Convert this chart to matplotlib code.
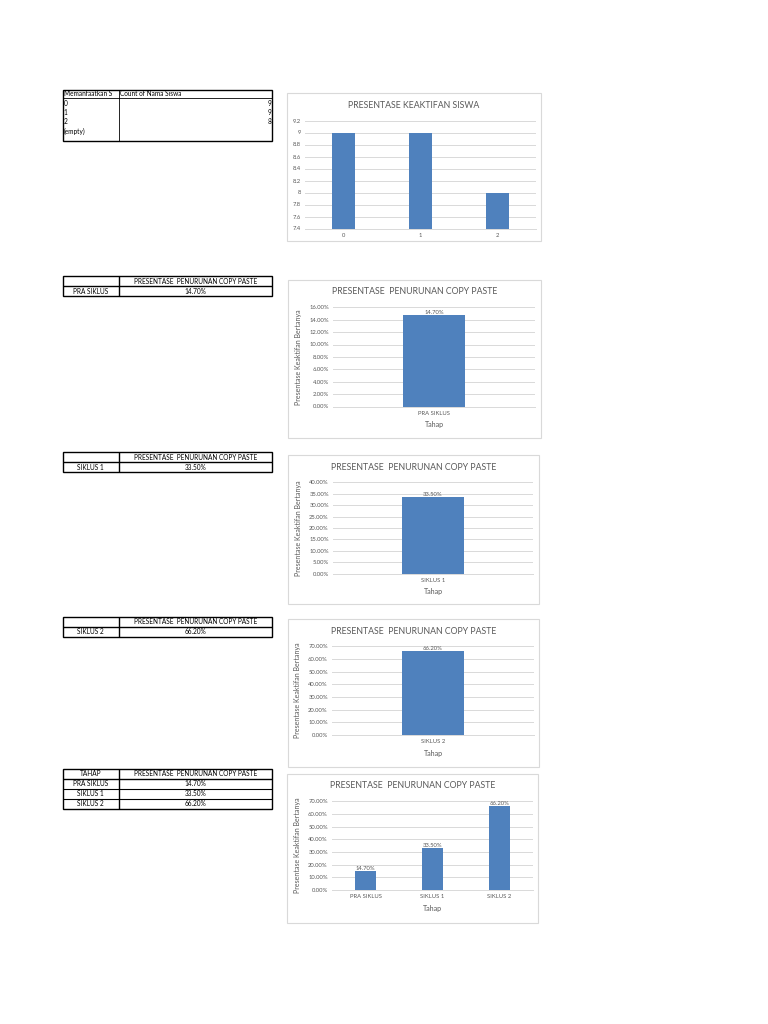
import matplotlib
matplotlib.use("Agg")
import matplotlib.pyplot as plt
from matplotlib.patches import Rectangle
from matplotlib.ticker import FuncFormatter

plt.rcParams['font.family'] = ['Lato', 'DejaVu Sans']

W, H = 768, 1024
BLUE = '#4f81bd'
GRID = '#d9d9d9'
TXT = '#595959'

# data
siswa_cats = ['0', '1', '2']
siswa_vals = [9, 9, 8]
siswa_ticks = [7.4, 7.6, 7.8, 8.0, 8.2, 8.4, 8.6, 8.8, 9.0, 9.2]

tahap = ['PRA SIKLUS', 'SIKLUS 1', 'SIKLUS 2']
penurunan = [14.70, 33.50, 66.20]

# first header cell is cut off at the column border in the sheet
tbl1_header = ['Memanfaatkan S', 'Count of Nama Siswa']
tbl1_rows = ['0', '1', '2', '(empty)']
tbl1_vals = ['9', '9', '8', '']

col_title = 'PRESENTASE  PENURUNAN COPY PASTE'
chart_title = 'PRESENTASE  PENURUNAN COPY PASTE'
ylab = 'Presentase Keaktifan Bertanya'

fig = plt.figure(figsize=(W / 100, H / 100), dpi=100)
bg = fig.add_axes([0, 0, 1, 1])
bg.set_xlim(0, W)
bg.set_ylim(H, 0)
bg.axis('off')


def pax(x0, y0, x1, y1):
    return fig.add_axes([x0 / W, 1 - y1 / H, (x1 - x0) / W, (y1 - y0) / H])


def chart(frame, plot, title, cats, vals, ylim, yticks, fmt, labels=True, axlabels=True):
    fx0, fy0, fx1, fy1 = frame
    bg.add_patch(Rectangle((fx0, fy0), fx1 - fx0, fy1 - fy0, fill=False,
                           ec=GRID, lw=0.8))
    bg.text((fx0 + fx1) / 2, fy0 + 12, title, ha='center', va='center',
            fontsize=6.3, color=TXT)
    ax = pax(*plot)
    x = range(len(cats))
    bars = ax.bar(x, vals, width=0.31, color=BLUE, zorder=3)
    ax.set_xlim(-0.5, len(cats) - 0.5)
    ax.set_ylim(*ylim)
    ax.set_yticks(yticks)
    ax.yaxis.set_major_formatter(FuncFormatter(fmt))
    ax.set_xticks(list(x))
    ax.set_xticklabels(cats)
    ax.grid(axis='y', color=GRID, lw=0.7, zorder=0)
    for s in ['top', 'right', 'left']:
        ax.spines[s].set_visible(False)
    ax.spines['bottom'].set_color(GRID)
    ax.spines['bottom'].set_linewidth(0.7)
    ax.tick_params(length=0, labelsize=4.2, colors=TXT, pad=3)
    ax.set_facecolor('none')
    if labels:
        for b, v in zip(bars, vals):
            ax.text(b.get_x() + b.get_width() / 2, v, '%.2f%%' % v,
                    ha='center', va='bottom', fontsize=4.2, color=TXT)
    if axlabels:
        ax.set_xlabel('Tahap', fontsize=5.1, color=TXT, labelpad=4)
        ax.set_ylabel(ylab, fontsize=5.0, color=TXT, labelpad=5)
    return ax


pct = lambda v, p: '%.2f%%' % v
gen = lambda v, p: ('%g' % round(v, 1))

chart((287, 93, 541, 241), (305, 120.5, 536, 228.5), 'PRESENTASE KEAKTIFAN SISWA',
      siswa_cats, siswa_vals, (7.4, 9.2), siswa_ticks, gen, labels=False, axlabels=False)

chart((288, 280, 541, 438), (333, 307.3, 535, 406.5), chart_title,
      tahap[:1], penurunan[:1], (0, 16), range(0, 17, 2), pct)
chart((288, 455, 539, 604), (333, 482.3, 533, 573.7), chart_title,
      tahap[1:2], penurunan[1:2], (0, 40), range(0, 41, 5), pct)
chart((288, 619, 539, 767), (332, 646.3, 534, 735), chart_title,
      tahap[2:], penurunan[2:], (0, 70), range(0, 71, 10), pct)
chart((287, 774, 538, 923), (332, 801.3, 533, 890), chart_title,
      tahap, penurunan, (0, 70), range(0, 71, 10), pct)


# tables
def line(x0, y0, x1, y1, lw=0.6):
    bg.plot([x0, x1], [y0, y1], color='black', lw=lw, solid_capstyle='butt', zorder=4)


def box(x0, y0, x1, y1, lw=1.0):
    bg.add_patch(Rectangle((x0, y0), x1 - x0, y1 - y0, fill=False, ec='black',
                           lw=lw, zorder=4))


TX0, TXM, TX1 = 62.5, 118.5, 272
FS = 4.7

# table 1 (pivot)
box(TX0, 89.5, TX1, 141)
line(TX0, 97.5, TX1, 97.5)
line(TXM, 89.5, TXM, 141)
bg.text(TX0 + 1, 93.5, tbl1_header[0], fontsize=FS, va='center', ha='left')
bg.text(TXM + 1.5, 93.5, tbl1_header[1], fontsize=FS, va='center', ha='left')
for i, (r, v) in enumerate(zip(tbl1_rows, tbl1_vals)):
    yy = 103.5 + 9.2 * i
    bg.text(TX0 + 1, yy, r, fontsize=FS, va='center', ha='left')
    bg.text(TX1 - 0.5, yy, v, fontsize=FS, va='center', ha='right')


def small_table(y0, rows, vals, head=''):
    rh = 10
    n = len(rows) + 1
    y1 = y0 + rh * n
    box(TX0, y0, TX1, y1)
    for k in range(1, n):
        line(TX0, y0 + rh * k, TX1, y0 + rh * k, lw=1.0 if k == 1 else 0.8)
    line(TXM, y0, TXM, y1, lw=1.0)
    bg.text((TX0 + TXM) / 2, y0 + rh / 2, head, fontsize=FS, ha='center', va='center')
    bg.text((TXM + TX1) / 2, y0 + rh / 2, col_title, fontsize=FS, ha='center', va='center')
    for k, (r, v) in enumerate(zip(rows, vals)):
        yy = y0 + rh * (k + 1.5)
        bg.text((TX0 + TXM) / 2, yy, r, fontsize=FS, ha='center', va='center')
        bg.text((TXM + TX1) / 2, yy, '%.2f%%' % v, fontsize=FS, ha='center', va='center')


small_table(276, tahap[:1], penurunan[:1])
small_table(452, tahap[1:2], penurunan[1:2])
small_table(616.5, tahap[2:], penurunan[2:])
small_table(769, tahap, penurunan, head='TAHAP')

fig.savefig('out.png', dpi=100, facecolor='white')
